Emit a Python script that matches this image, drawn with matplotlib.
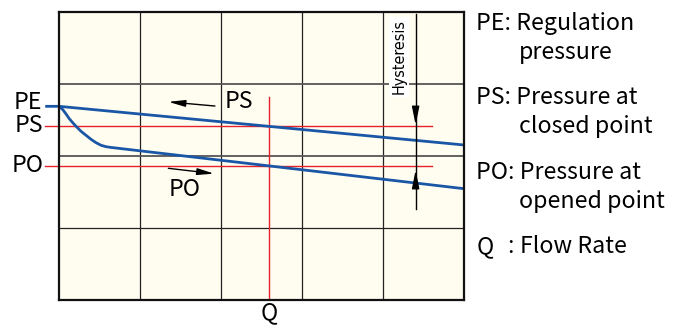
import matplotlib
matplotlib.use("Agg")
import matplotlib.pyplot as plt
from matplotlib import font_manager as fm

plt.rcParams['font.family'] = ['Noto Sans CJK JP', 'DejaVu Sans']

# Grid of the diagram (flow on x, pressure on y, arbitrary units)
n_cols = 5
n_rows = 4

# Closing curve (PE -> PS side), starts left of the frame at PE
close_x = [-0.17, 0.0, 5.0]
close_y = [2.69, 2.69, 2.153]

# Opening curve (drops from PE, then runs parallel)
open_x = [0.0, 0.046, 0.086, 0.127, 0.169, 0.210, 0.272, 0.333, 0.395,
          0.457, 0.519, 0.580, 0.642, 5.0]
open_y = [2.69, 2.645, 2.585, 2.518, 2.463, 2.413, 2.343, 2.288, 2.232,
          2.185, 2.149, 2.129, 2.119, 1.546]

# Reference levels and operating flow
pe_level = 2.69
ps_level = 2.417
po_level = 1.865
q_flow = 2.596
q_top = 2.815

legend_lines = [
    ("PE: Regulation", "pressure"),
    ("PS: Pressure at", "closed point"),
    ("PO: Pressure at", "opened point"),
]
q_key = "Q"
q_desc = "Flow Rate"

BLUE = "#1a56a6"
RED = "#e8202a"
BG = "#fffdf0"


def narrow_font(size):
    """Pick an installed narrow/condensed sans face for the vertical label."""
    entries = fm.fontManager.ttflist
    for f in entries:
        if f.name == "Liberation Sans Narrow" and f.style == "normal" \
                and f.weight in (400, "normal", "regular"):
            return fm.FontProperties(fname=f.fname, size=size)
    for fam in ("DejaVu Sans", "Noto Sans", "Open Sans", "Roboto"):
        for f in entries:
            if f.name == fam and f.style == "normal" and "condensed" in str(f.stretch) \
                    and f.weight in (400, "normal", "regular"):
                return fm.FontProperties(fname=f.fname, size=size)
    return fm.FontProperties(family="DejaVu Sans", size=size * 0.8)


fig = plt.figure(figsize=(6.81, 3.25), dpi=100)
ax = fig.add_axes([59 / 681, 1 - 300 / 325, 405 / 681, 288 / 325])
ax.set_xlim(0, n_cols)
ax.set_ylim(0, n_rows)
ax.set_facecolor(BG)
ax.set_xticks([])
ax.set_yticks([])
for s in ax.spines.values():
    s.set_linewidth(1.6)
    s.set_color("#111111")
    s.set_zorder(10)

# grid
for i in range(1, n_cols):
    ax.axvline(i, color="#222222", lw=0.9, zorder=1)
for j in range(1, n_rows):
    c = "#555555" if j in (2, 3) else "#222222"
    w = 1.3 if j in (2, 3) else 0.9
    ax.axhline(j, color=c, lw=w, zorder=1)

# red reference lines (extend to the left labels)
ax.plot([-0.175, 4.6], [ps_level, ps_level], color=RED, lw=1.0, clip_on=False, zorder=3)
ax.plot([-0.175, 4.6], [po_level, po_level], color=RED, lw=1.0, clip_on=False, zorder=3)
ax.plot([q_flow, q_flow], [0, q_top], color=RED, lw=1.0, zorder=3)

# characteristic curves
ax.plot(close_x, close_y, color=BLUE, lw=2.0, clip_on=False, zorder=5,
        solid_capstyle="butt", solid_joinstyle="round")
ax.plot(open_x, open_y, color=BLUE, lw=2.0, zorder=5, solid_capstyle="butt",
        solid_joinstyle="round")

# left labels
fs = 16.7
ax.text(-0.21, pe_level + 0.06, "PE", ha="right", va="center", fontsize=fs)
ax.text(-0.20, ps_level + 0.01, "PS", ha="right", va="center", fontsize=fs)
ax.text(-0.19, po_level, "PO", ha="right", va="center", fontsize=fs)
ax.text(q_flow, -0.175, "Q", ha="center", va="center", fontsize=fs)

# direction arrows
arrow_kw = dict(arrowstyle="-|>,head_length=1.0,head_width=0.2", color="black",
                lw=1.0, shrinkA=0, shrinkB=0)
ax.annotate("", xy=(1.35, 2.752), xytext=(1.925, 2.694), arrowprops=arrow_kw)
ax.annotate("", xy=(1.915, 1.755), xytext=(1.35, 1.829), arrowprops=arrow_kw)
ax.text(2.05, 2.752, "PS", ha="left", va="center", fontsize=fs)
ax.text(1.55, 1.537, "PO", ha="center", va="center", fontsize=fs)

# hysteresis indicator
hx = 4.403
ax.plot([hx, hx], [3.972, 1.26], color="black", lw=1.0, zorder=6)
hk = dict(arrowstyle="-|>,head_length=1.1,head_width=0.22", color="black",
          lw=1.0, shrinkA=0, shrinkB=0)
ax.annotate("", xy=(hx, 2.43), xytext=(hx, 2.68), arrowprops=hk, zorder=7)
ax.annotate("", xy=(hx, 1.806), xytext=(hx, 1.64), arrowprops=hk, zorder=7)
ax.text(4.198, 3.38, "Hysteresis", rotation=90, ha="center", va="center",
        fontproperties=narrow_font(11.5), zorder=8,
        bbox=dict(boxstyle="square,pad=0.15", fc="white", ec="none"))

# legend text on the right
x0 = 476.5 / 681
x1 = 519 / 681
baselines = [(30, 59), (104, 133), (179, 208)]
for (head, tail), (b0, b1) in zip(legend_lines, baselines):
    fig.text(x0, 1 - b0 / 325, head, ha="left", va="baseline", fontsize=fs)
    fig.text(x1, 1 - b1 / 325, tail, ha="left", va="baseline", fontsize=fs)
fig.text(x0, 1 - 253 / 325, q_key, ha="left", va="baseline", fontsize=fs)
fig.text(x1 - 5 / 681, 1 - 253 / 325, ":", ha="right", va="baseline", fontsize=fs)
fig.text(x1 + 1 / 681, 1 - 253 / 325, q_desc, ha="left", va="baseline", fontsize=fs)

fig.savefig("out.png", dpi=100, facecolor="white")
